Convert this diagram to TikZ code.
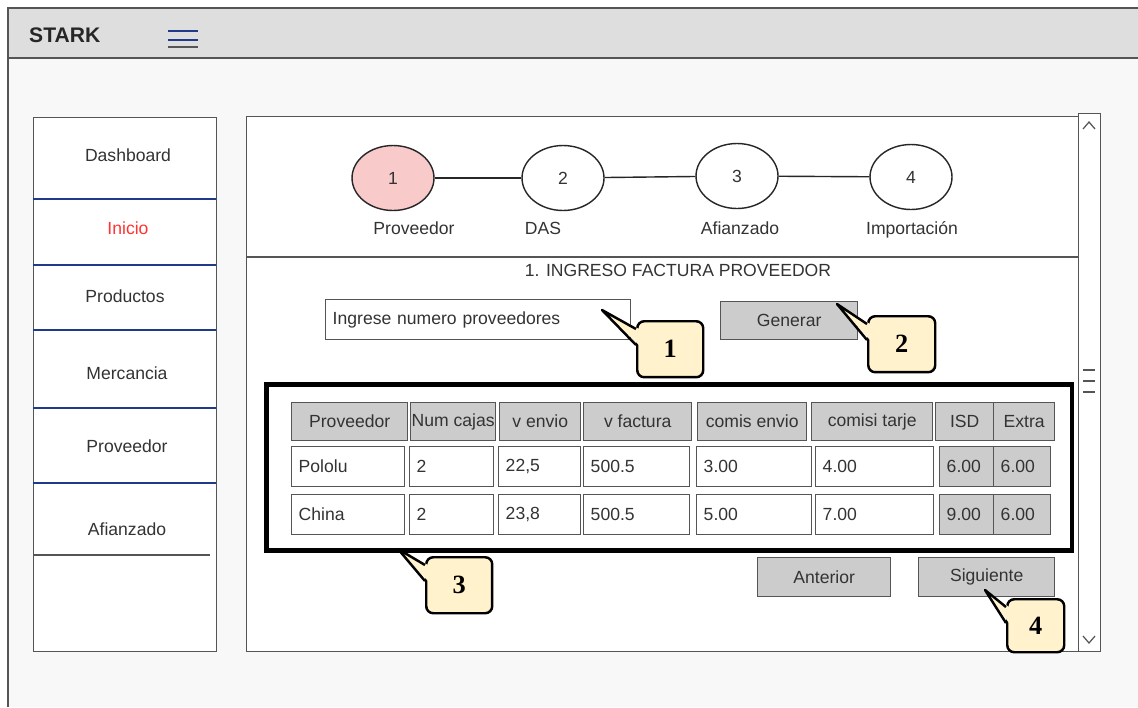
\documentclass[tikz,border=0pt]{standalone}
\usepackage{fontspec}
\setmainfont{Liberation Sans}
\newfontfamily\notefont{Liberation Serif}
\usetikzlibrary{shapes.geometric,calc}

\definecolor{barbg}{HTML}{DEDEDE}
\definecolor{pagebg}{HTML}{F8F8F8}
\definecolor{framegray}{HTML}{555555}
\definecolor{navblue}{HTML}{1F3A8A}
\definecolor{steppink}{HTML}{F8CACA}
\definecolor{cellgray}{HTML}{CCCCCC}
\definecolor{noteyellow}{HTML}{FFF2CC}
\definecolor{activered}{HTML}{FF3333}

\begin{document}
\begin{tikzpicture}[x=0.02cm,y=-0.02cm,
    every node/.style={font=\fontsize{10}{12}\selectfont, text=black!80},
    outline/.style={draw=framegray, line width=0.8pt},
    stepnode/.style={ellipse, draw=black!85, line width=0.8pt, fill=white,
        minimum width=1.64cm, minimum height=1.3cm},
    steplabel/.style={anchor=base},
    headcell/.style={outline, fill=cellgray, minimum height=0.76cm,
        inner xsep=0pt, anchor=north west},
    datacell/.style={outline, minimum height=0.8cm, inner xsep=4pt,
        align=left, anchor=north west},
    button/.style={outline, fill=cellgray, anchor=north west},
    note/.style={draw=black, line width=1.4pt, fill=noteyellow,
        rounded corners=4pt, anchor=north west, minimum height=1.12cm,
        font=\notefont\bfseries\fontsize{15}{18}\selectfont, text=black},
    notetip/.style={draw=black, line width=1.4pt, line join=round}]

    \useasboundingbox (0,0) rectangle (1138,707);

    % Page and top bar
    \fill[pagebg] (8,8) rectangle (1138,707);
    \fill[barbg] (8,8) rectangle (1138,58);
    \draw[outline] (8,707) -- (8,8) -- (1138,8);
    \draw[outline] (8,58) -- (1138,58);
    \node[font=\bfseries\fontsize{12}{14}\selectfont, text=black!85, anchor=west] (brand) at (23,35) {STARK};
    \draw[navblue, line width=1.5pt] (168,31) -- (198,31);
    \draw[navblue, line width=1.5pt] (168,40) -- (198,40);
    \draw[framegray, line width=1pt] (168,47) -- (198,47);

    % Side menu
    \node[outline, fill=white, anchor=north west, minimum width=3.66cm, minimum height=10.68cm] (sidebar) at (33,117) {};
    \foreach \y in {199,265,330,408,483}
        \draw[navblue, line width=1.2pt] (33,\y) -- (216,\y);
    \draw[framegray, line width=0.8pt] (33,555) -- (210,555);
    \node (navdash) at (128,155) {Dashboard};
    \node[text=activered] (navinicio) at (128,228) {Inicio};
    \node (navprod) at (125,296) {Productos};
    \node (navmerc) at (127,373) {Mercancia};
    \node (navprov) at (127,446) {Proveedor};
    \node (navafi) at (127,529) {Afianzado};

    % Main panel and scroll bar
    \node[outline, fill=white, anchor=north west, minimum width=16.64cm, minimum height=10.7cm] (panel) at (246,116) {};
    \draw[outline] (246,257) -- (1078,257);
    \node[outline, fill=white, anchor=north west, minimum width=0.44cm, minimum height=10.76cm] (scroll) at (1078,113) {};
    \draw[framegray, line width=0.7pt] (1083,129) -- (1089,122) -- (1095,129);
    \draw[framegray, line width=0.7pt] (1083,636) -- (1089,643) -- (1095,636);
    \foreach \y in {370,381,392}
        \draw[framegray, line width=0.7pt] (1083,\y) -- (1095,\y);

    % Steps
    \node[stepnode, fill=steppink] (s1) at (393,178) {1};
    \node[stepnode] (s2) at (563,178) {2};
    \node[stepnode] (s3) at (737,176) {3};
    \node[stepnode] (s4) at (911,177) {4};
    \draw[black!85, line width=0.8pt] (s1) -- (s2);
    \draw[black!85, line width=0.8pt] (s2) -- (s3);
    \draw[black!85, line width=0.8pt] (s3) -- (s4);
    \node[steplabel] (l1) at (414,234) {Proveedor};
    \node[steplabel] (l2) at (543,234) {DAS};
    \node[steplabel] (l3) at (740,234) {Afianzado};
    \node[steplabel] (l4) at (912,234) {Importación};

    % Form
    \node (title) at (678,270) {1. INGRESO FACTURA PROVEEDOR};
    \node[outline, fill=white, anchor=north west, minimum height=0.8cm, inner xsep=4pt, text width=5.82cm, align=left] (input) at (325,299) {Ingrese numero proveedores};
    \node[button, minimum width=2.74cm, minimum height=0.76cm] (generar) at (720,301) {Generar};

    % Table
    \node[draw=black, line width=2.6pt, anchor=north west, minimum width=16.12cm, minimum height=3.32cm] (grid) at (264,382) {};
    \foreach \xa/\xb/\txt [count=\i] in {291/407/Proveedor, 410/495/Num cajas, 499/580/v envio, 583/691/v factura, 697/806/comis envio, 811/932/comisi tarje, 935/993/ISD, 993/1054/Extra}
        \node[headcell, minimum width=(\xb-\xa)*0.02cm] (h\i) at (\xa,402) {\txt};
    \foreach \xa/\xb/\va/\vb/\fc [count=\i] in {291/404/Pololu/China/white, 409/493/2/2/white, 498/580/{22,5}/{23,8}/white, 583/689/500.5/500.5/white, 696/811/3.00/5.00/white, 815/933/4.00/7.00/white, 939/993/6.00/9.00/cellgray, 993/1050/6.00/6.00/cellgray}{
        \pgfmathsetmacro{\tw}{(\xb-\xa)*0.02*28.4528-8}
        \node[datacell, fill=\fc, text width=\tw pt] (ra\i) at (\xa,446) {\va};
        \node[datacell, fill=\fc, text width=\tw pt] (rb\i) at (\xa,494) {\vb};
    }

    % Navigation buttons
    \node[button, minimum width=2.66cm, minimum height=0.78cm] (anterior) at (757,557) {Anterior};
    \node[button, minimum width=2.72cm, minimum height=0.78cm] (siguiente) at (918,557) {Siguiente};

    % Callouts
    \coordinate (t1) at (602,310);
    \coordinate (t2) at (837,304);
    \coordinate (t3) at (398,549);
    \coordinate (t4) at (985,590);
    \node[note, minimum width=1.32cm] (c1) at (636,320) {1};
    \node[note, minimum width=1.34cm] (c2) at (867,315) {2};
    \node[note, minimum width=1.32cm] (c3) at (425,556) {3};
    \node[note, minimum width=1.14cm, minimum height=1.06cm] (c4) at (1006,598) {4};
    \foreach \k in {1,2,3,4}{
        \fill[noteyellow] (t\k) -- ($(c\k.north west)+(3,9)$) -- ($(c\k.north west)+(3,25)$) -- cycle;
        \draw[notetip] ($(c\k.north west)+(0,9)$) -- (t\k) -- ($(c\k.north west)+(0,25)$);
    }
\end{tikzpicture}
\end{document}
